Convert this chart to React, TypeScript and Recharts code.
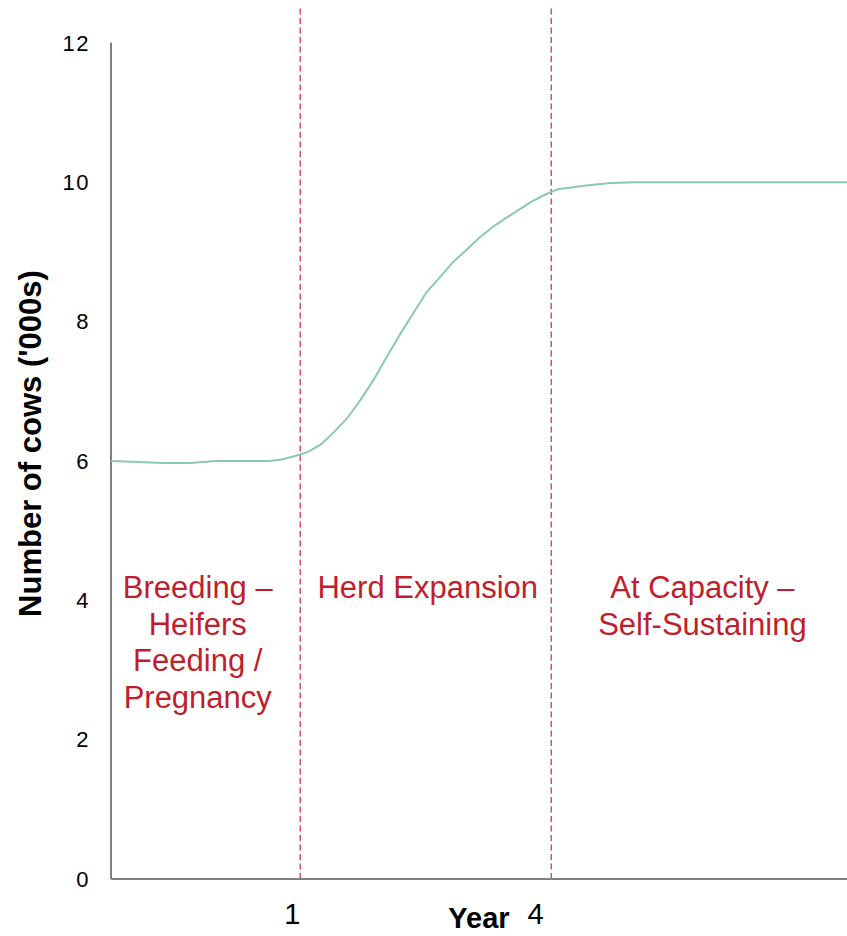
import {
  LineChart,
  Line,
  XAxis,
  YAxis,
  ReferenceLine,
  ReferenceDot,
} from 'recharts';

// x is in "periods" along the timeline, y is number of cows ('000s)
const periods = [0, 2, 4, 6, 8, 10, 12, 13, 14, 15, 16, 17, 18, 19, 20, 21, 22, 23, 24, 25, 26, 27, 28, 29, 30, 31, 32, 33, 34, 36, 38, 40, 56];
const cows = [6.0, 5.985, 5.97, 5.97, 6.0, 6.0, 6.0, 6.02, 6.07, 6.13, 6.24, 6.42, 6.62, 6.88, 7.17, 7.5, 7.82, 8.12, 8.42, 8.63, 8.85, 9.02, 9.2, 9.35, 9.48, 9.6, 9.72, 9.82, 9.9, 9.95, 9.99, 10.0, 10.0];

const yTicks = [0, 2, 4, 6, 8, 10, 12];
const yearTicks = [13.8, 32.3];
const yearLabels = ['1', '4'];
const phaseBreaks = [14.4, 33.5];

const phaseLabels = [
  ['Breeding –', 'Heifers', 'Feeding /', 'Pregnancy'],
  ['Herd Expansion'],
  ['At Capacity –', 'Self-Sustaining'],
];
const phaseCenters = [6.6, 24.1, 45.0];
const phaseTextY = 4.03;

const data = periods.map((p, i) => ({ period: p, cows: cows[i] }));

const FONT = '"Liberation Sans", Arial, sans-serif';
const RED = '#C01E2C';
const AXIS = '#808080';

function phaseContent(lines: string[]) {
  return (props: any) => {
    const { x, y } = props.viewBox;
    return (
      <text x={x} y={y} textAnchor="middle" fontFamily={FONT} fontSize={31} fill={RED}>
        {lines.map((l, i) => (
          <tspan key={i} x={x} dy={i === 0 ? 0 : 36.5}>{l}</tspan>
        ))}
      </text>
    );
  };
}

export default function App() {
  return (
    <div style={{ position: 'absolute', left: 0, top: 0, background: '#fff' }}>
      <LineChart width={847} height={936} data={data} margin={{ top: 8, right: 0, bottom: 0, left: 0 }}>
        <XAxis
          dataKey="period"
          type="number"
          domain={[0, 56]}
          ticks={yearTicks}
          tickFormatter={(v) => yearLabels[yearTicks.indexOf(v)] ?? ''}
          height={57}
          tickLine={false}
          tickSize={0}
          tickMargin={24}
          axisLine={{ stroke: AXIS, strokeWidth: 2 }}
          tick={{ fontSize: 29, fill: '#000', fontFamily: FONT }}
          label={{
            value: 'Year',
            position: 'insideBottom',
            offset: 8,
            style: { fontSize: 29, fontWeight: 'bold', fill: '#000', fontFamily: FONT },
          }}
        />
        <YAxis
          type="number"
          domain={[0, 12.5]}
          ticks={yTicks}
          width={111}
          tickLine={false}
          tickSize={0}
          tickMargin={21}
          axisLine={false}
          tick={{ fontSize: 22, fill: '#000', fontFamily: FONT, letterSpacing: 1.5 }}
          label={{
            value: "Number of cows ('000s)",
            angle: -90,
            position: 'insideLeft',
            offset: 30,
            style: { textAnchor: 'middle', fontSize: 31, fontWeight: 'bold', fill: '#000', fontFamily: FONT },
          }}
        />
        <ReferenceLine
          segment={[{ x: 0, y: 0 }, { x: 0, y: 12 }]}
          stroke={AXIS}
          strokeWidth={2}
        />
        {phaseBreaks.map((b) => (
          <ReferenceLine key={b} x={b} stroke="#D6505E" strokeWidth={1.5} strokeDasharray="6 3.5" />
        ))}
        {phaseLabels.map((lines, i) => (
          <ReferenceDot
            key={i}
            x={phaseCenters[i]}
            y={phaseTextY}
            r={0}
            stroke="none"
            fill="none"
            label={{ content: phaseContent(lines) }}
          />
        ))}
        <Line
          type="linear"
          dataKey="cows"
          stroke="#8CC8B1"
          strokeWidth={2}
          dot={false}
          isAnimationActive={false}
        />
      </LineChart>
    </div>
  );
}
